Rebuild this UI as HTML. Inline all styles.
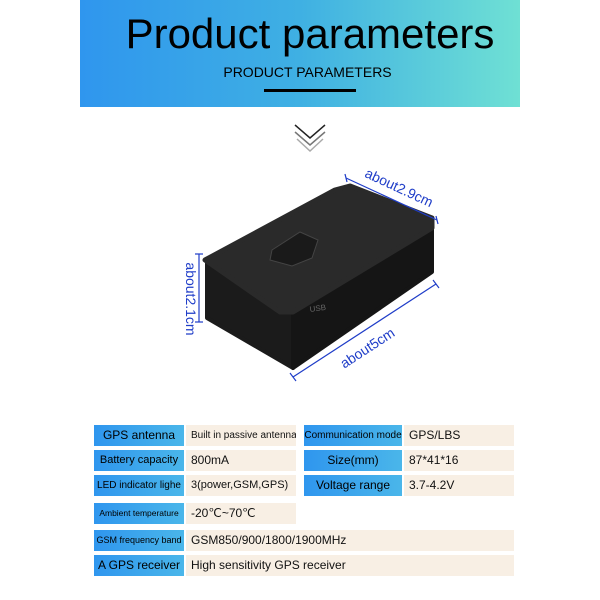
<!DOCTYPE html>
<html><head><meta charset="utf-8"><style>
body{margin:0;width:600px;height:600px;background:#fff;position:relative;overflow:hidden;font-family:"Liberation Sans",sans-serif}
.banner{position:absolute;left:80px;top:0;width:440px;height:107px;background:linear-gradient(90deg,#2f96ee 0%,#3fb0e3 50%,#6fe0d4 100%)}
.t1{position:absolute;left:0;width:100%;top:10px;text-align:center;font-size:42px;color:#000;padding-left:20px;box-sizing:border-box}
.t2{position:absolute;left:0;width:100%;top:64px;text-align:center;font-size:14px;color:#000;padding-left:15px;box-sizing:border-box}
.bar{position:absolute;left:184px;top:89px;width:92px;height:3px;background:#000}
.c{position:absolute;height:21px;line-height:21px;font-size:12px;white-space:nowrap;overflow:hidden}
.l{background:linear-gradient(90deg,#2f96ee,#4ab6ea);text-align:center;color:#000}
.v{background:#f8efe4;padding-left:5px;box-sizing:border-box;color:#111}
</style></head><body>
<div class="banner"><div class="t1">Product parameters</div><div class="t2">PRODUCT PARAMETERS</div><div class="bar"></div></div>
<svg width="600" height="600" style="position:absolute;left:0;top:0">
<polyline points="295,125 310,138 325,125" fill="none" stroke="#222" stroke-width="1.5"/>
<polyline points="295,132 310,145 325,132" fill="none" stroke="#777" stroke-width="1.5"/>
<polyline points="297,139 310,151 323,139" fill="none" stroke="#aaa" stroke-width="1.5"/>
<polygon points="207,262 293,312 293,368 207,318" fill="#1b1b1b" stroke="#1b1b1b" stroke-width="4" stroke-linejoin="round"/>
<polygon points="293,312 432,226 432,272 293,368" fill="#151515" stroke="#151515" stroke-width="4" stroke-linejoin="round"/>
<polygon points="205,260 335,190 350,186 432,218 432,228 293,312 280,312" fill="#2a2a2a" stroke="#2a2a2a" stroke-width="5" stroke-linejoin="round"/>
<polygon points="272,250 300,232 318,240 312,258 292,266 270,260" fill="#1a1a1a" stroke="#444"/>
<text x="310" y="312" font-size="8" fill="#666" transform="rotate(-8 310 312)">USB</text>
<g stroke="#1f3dc8" stroke-width="1.2">
<line x1="346" y1="178" x2="437" y2="220"/><line x1="345" y1="174" x2="347" y2="182"/><line x1="436" y1="216" x2="438" y2="224"/>
<line x1="199" y1="254" x2="199" y2="322"/><line x1="195" y1="254" x2="203" y2="254"/><line x1="195" y1="322" x2="203" y2="322"/>
<line x1="293" y1="377" x2="436" y2="284"/><line x1="290" y1="373" x2="296" y2="381"/><line x1="433" y1="280" x2="439" y2="288"/>
</g>
<g fill="#1f3dc8" font-size="14">
<text x="397" y="192" text-anchor="middle" transform="rotate(25 397 192)">about2.9cm</text>
<text x="186" y="299" text-anchor="middle" transform="rotate(90 186 299)">about2.1cm</text>
<text x="370" y="352" text-anchor="middle" transform="rotate(-33 370 352)">about5cm</text>
</g>
</svg>
<div class="c l" style="left:94px;top:425px;width:90px;font-size:12px">GPS antenna</div>
<div class="c v" style="left:186px;top:425px;width:110px;font-size:10px">Built in passive antenna</div>
<div class="c l" style="left:304px;top:425px;width:98px;font-size:10px">Communication mode</div>
<div class="c v" style="left:404px;top:425px;width:110px">GPS/LBS</div>
<div class="c l" style="left:94px;top:450px;width:90px;font-size:11px">Battery capacity</div>
<div class="c v" style="left:186px;top:450px;width:110px">800mA</div>
<div class="c l" style="left:304px;top:450px;width:98px">Size(mm)</div>
<div class="c v" style="left:404px;top:450px;width:110px">87*41*16</div>
<div class="c l" style="left:94px;top:475px;width:90px;font-size:10px">LED indicator lighe</div>
<div class="c v" style="left:186px;top:475px;width:110px;font-size:11px">3(power,GSM,GPS)</div>
<div class="c l" style="left:304px;top:475px;width:98px">Voltage range</div>
<div class="c v" style="left:404px;top:475px;width:110px">3.7-4.2V</div>
<div class="c l" style="left:94px;top:503px;width:90px;font-size:8.5px">Ambient temperature</div>
<div class="c v" style="left:186px;top:503px;width:110px">-20℃~70℃</div>
<div class="c l" style="left:94px;top:530px;width:90px;font-size:9px">GSM frequency band</div>
<div class="c v" style="left:186px;top:530px;width:328px">GSM850/900/1800/1900MHz</div>
<div class="c l" style="left:94px;top:555px;width:90px">A GPS receiver</div>
<div class="c v" style="left:186px;top:555px;width:328px">High sensitivity GPS receiver</div>
</body></html>
